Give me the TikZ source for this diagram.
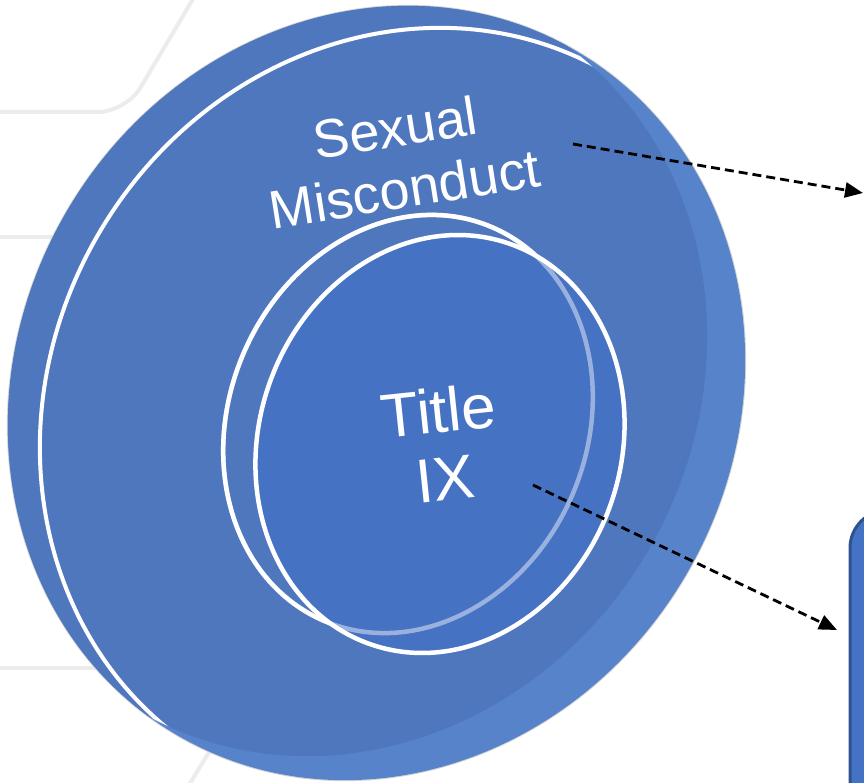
\documentclass[tikz,border=0pt]{standalone}
\usepackage{fontspec}
\setmainfont{Liberation Sans}
\usetikzlibrary{arrows.meta}
\definecolor{faceblue}{HTML}{4F77BE}
\definecolor{bandblue}{HTML}{5783CB}
\definecolor{innerblue}{HTML}{4672C3}
\definecolor{boxblue}{HTML}{4472C4}
\definecolor{boxedge}{HTML}{2F528F}
\definecolor{bggray}{HTML}{ECECEC}
\definecolor{rimgray}{HTML}{D4D4D4}
\begin{document}
\begin{tikzpicture}[x=1pt,y=-1pt,
  bgline/.style={draw=bggray, line width=4pt},
  whitering/.style={draw=white, line width=4.5pt},
  lbl/.style={text=white, align=center, inner sep=0pt},
  conn/.style={dash pattern=on 9pt off 5pt, line width=2.8pt, draw=black,
    -{Triangle[length=18pt,width=15pt]}}]
\useasboundingbox (0,0) rectangle (864,783);
\clip (0,0) rectangle (864,783);
\fill[white] (0,0) rectangle (864,783);
% background pattern
\draw[bgline, rounded corners=28pt] (196,-6) -- (126,112) -- (-6,112);
\draw[bgline] (-6,237) -- (150,237);
\draw[bgline] (-6,668) -- (150,668);
\draw[bgline] (186,790) -- (260,668);
% disc silhouette rim
\draw[rimgray, line width=2pt, rotate around={-30:(376.5,393)}] (376.5,393) ellipse [x radius=359pt, y radius=396pt];
% disc side band (whole silhouette)
\fill[bandblue, rotate around={-30:(376.5,393)}] (376.5,393) ellipse [x radius=359pt, y radius=396pt];
% disc face = silhouette cut by a copy shifted to the upper left
\begin{scope}
  \clip[rotate around={-30:(376.5,393)}] (376.5,393) ellipse [x radius=359pt, y radius=396pt];
  \fill[faceblue, rotate around={-30:(338.5,369)}] (338.5,369) ellipse [x radius=359pt, y radius=396pt];
  \clip[rotate around={-30:(338.5,369)}] (338.5,369) ellipse [x radius=359pt, y radius=396pt];
  \draw[white, line width=4pt, rotate around={-30:(408.5,415)}] (408.5,415) ellipse [x radius=359pt, y radius=396pt];
\end{scope}
% inner circles
\draw[whitering, rotate around={-23:(408,424)}] (408,424) ellipse [x radius=179pt, y radius=214pt];
\fill[innerblue, rotate around={-19:(440,444)}] (440,444) ellipse [x radius=181pt, y radius=212pt];
\draw[whitering, draw opacity=0.45, rotate around={-23:(408,424)}] (408,424) ellipse [x radius=179pt, y radius=214pt];
\draw[whitering, rotate around={-19:(440,444)}] (440,444) ellipse [x radius=181pt, y radius=212pt];
% labels
\node[lbl, rotate=9, font=\fontsize{54}{62}\selectfont] (sm) at (400,158) {Sexual\\Misconduct};
\node[lbl, rotate=6, font=\fontsize{62}{68}\selectfont] (t9) at (442,444) {Title\\IX};
% right box (partly visible)
\node[draw=boxedge, line width=3pt, fill=boxblue, rounded corners=38pt,
  minimum width=160pt, minimum height=400pt, inner sep=0pt] (box) at (930,710) {};
% connectors
\coordinate (s1) at (573,144);
\coordinate (e1) at (863,193);
\coordinate (s2) at (533,485);
\coordinate (e2) at (837,630);
\draw[conn] (s1) -- (e1);
\draw[conn] (s2) -- (e2);
\end{tikzpicture}
\end{document}
